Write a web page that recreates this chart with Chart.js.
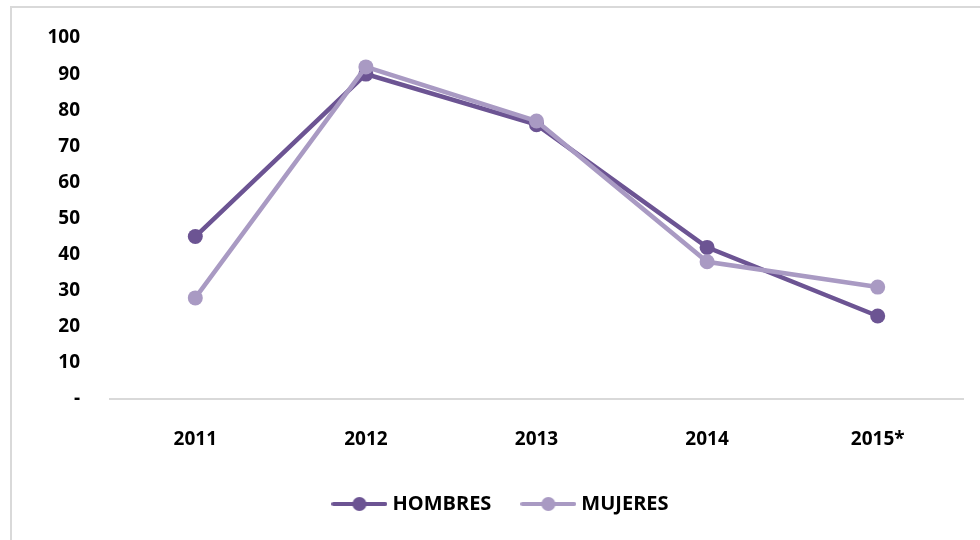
<!DOCTYPE html>
<html>
<head>
<meta charset="utf-8">
<script src="https://cdn.jsdelivr.net/npm/chart.js@4"></script>
<style>
  html, body { margin: 0; padding: 0; background: #fff; }
  #frame { position: absolute; left: 10px; top: 6px; width: 1000px; height: 600px; border: 2px solid #d9d9d9; box-sizing: border-box; }
  #wrap { position: absolute; left: 0; top: 0; width: 980px; height: 540px; }
</style>
</head>
<body>
<div id="frame"></div>
<div id="wrap"><canvas id="c" width="980" height="540"></canvas></div>
<script>
const categories = ['2011', '2012', '2013', '2014', '2015*'];
const hombres = [45, 90, 76, 42, 23];
const mujeres = [28, 92, 77, 38, 31];
const yTicks = [0, 10, 20, 30, 40, 50, 60, 70, 80, 90, 100];

const colH = '#6c5493';
const colM = '#a99ac3';
const FONT = '"Open Sans", "Liberation Sans", sans-serif';

function legendIcon(color) {
  const c = document.createElement('canvas');
  c.width = 56; c.height = 16;
  const g = c.getContext('2d');
  g.strokeStyle = color; g.lineWidth = 4; g.lineCap = 'round';
  g.beginPath(); g.moveTo(2, 8); g.lineTo(54, 8); g.stroke();
  g.fillStyle = color;
  g.beginPath(); g.arc(28, 8, 7, 0, Math.PI * 2); g.fill();
  return c;
}

const chart = new Chart(document.getElementById('c'), {
  type: 'line',
  data: {
    labels: categories,
    datasets: [
      { label: 'HOMBRES', data: hombres, borderColor: colH, backgroundColor: colH,
        borderWidth: 4.5, pointRadius: 7.5, pointHoverRadius: 7.5, pointBackgroundColor: colH,
        pointBorderWidth: 0, tension: 0, order: 1 },
      { label: 'MUJERES', data: mujeres, borderColor: colM, backgroundColor: colM,
        borderWidth: 4.5, pointRadius: 7.5, pointHoverRadius: 7.5, pointBackgroundColor: colM,
        pointBorderWidth: 0, tension: 0, order: 0 }
    ]
  },
  options: {
    responsive: false,
    animation: false,
    layout: { padding: { left: 42, right: 17, top: 38, bottom: 20 } },
    plugins: {
      tooltip: { enabled: false },
      legend: {
        position: 'bottom',
        maxHeight: 60,
        labels: {
          usePointStyle: true,
          pointStyleWidth: 46,
          boxHeight: 16,
          padding: 34,
          color: '#000',
          font: { family: FONT, size: 20, weight: 'bold' },
          generateLabels: (ch) => ch.data.datasets.map((ds, i) => ({
            text: ds.label, datasetIndex: i, hidden: false,
            pointStyle: legendIcon(ds.borderColor),
            fillStyle: ds.borderColor, strokeStyle: ds.borderColor, lineWidth: 0,
            fontColor: '#000'
          }))
        }
      }
    },
    scales: {
      x: {
        offset: true,
        afterFit: (s) => { s.height = 61; s.paddingLeft = 0; s.paddingRight = 0; },
        grid: { display: false, drawTicks: false },
        border: { display: true, color: '#d9d9d9', width: 2 },
        ticks: { color: '#000', padding: 29, font: { family: FONT, size: 19, weight: 'bold' } }
      },
      y: {
        min: 0, max: 100,
        afterBuildTicks: (s) => { s.ticks = yTicks.map(v => ({ value: v })); },
        afterFit: (s) => { s.width = 68; s.paddingTop = 0; s.paddingBottom = 0; },
        grid: { display: false, drawTicks: false },
        border: { display: false },
        ticks: { color: '#000', padding: 30, font: { family: FONT, size: 19, weight: 'bold' },
          callback: (v) => v === 0 ? '-' : v }
      }
    }
  }
});
</script>
</body>
</html>
